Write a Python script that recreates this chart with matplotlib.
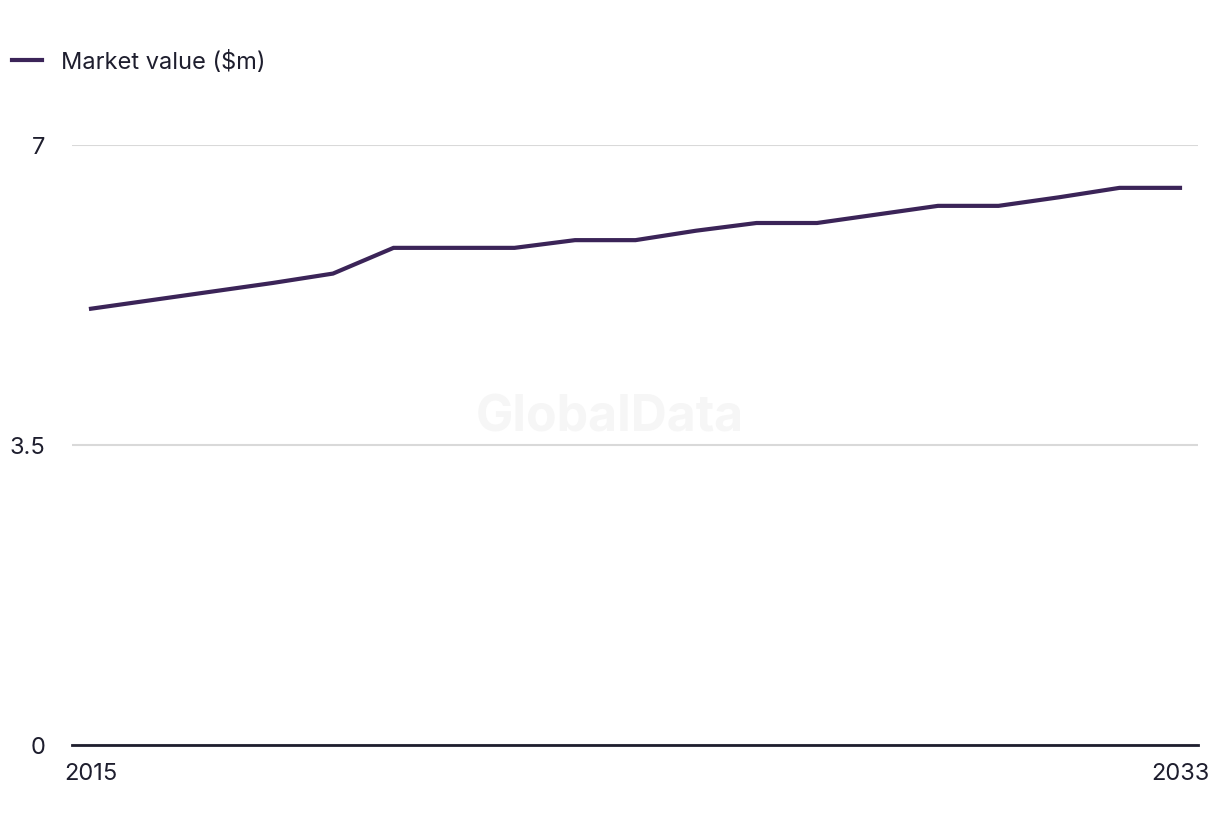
import matplotlib.pyplot as plt

years = list(range(2015, 2034))
market_value = [5.09, 5.19, 5.29, 5.39, 5.50, 5.80, 5.80, 5.80, 5.89, 5.89,
                6.00, 6.09, 6.09, 6.19, 6.29, 6.29, 6.39, 6.50, 6.50]
series_label = 'Market value ($m)'
y_ticks = [0, 3.5, 7]
y_tick_labels = ['0', '3.5', '7']
x_ticks = [2015, 2033]

plt.rcParams['font.family'] = ['Inter', 'DejaVu Sans']
text_color = '#1e1e2e'
line_color = '#3b2458'

fig = plt.figure(figsize=(12.2, 8.36), dpi=100)
ax = fig.add_axes([72 / 1220, 91 / 836, 1126 / 1220, 600 / 836])

ax.plot(years, market_value, color=line_color, linewidth=3, label=series_label,
        solid_joinstyle='miter', zorder=3)

ax.set_xlim(2015 - 19 / 60.5, 2033 + 18 / 60.5)
ax.set_ylim(0, 7)
ax.set_yticks(y_ticks)
ax.set_yticklabels(y_tick_labels)
ax.set_xticks(x_ticks)
ax.set_xticklabels([str(x) for x in x_ticks])

ax.grid(axis='y', color='#d9d9d9', linewidth=1.5)
ax.set_axisbelow(True)
for side in ['top', 'right', 'left']:
    ax.spines[side].set_visible(False)
ax.spines['bottom'].set_color(text_color)
ax.spines['bottom'].set_linewidth(2)
ax.spines['bottom'].set_zorder(4)
ax.tick_params(axis='both', length=0, labelsize=17, colors=text_color)
ax.tick_params(axis='y', pad=19)
ax.tick_params(axis='x', pad=13)

# watermark
fig.text(610 / 1220, 1 - 418 / 836, 'GlobalData', fontsize=36, fontweight='bold',
         color='#f6f6f6', ha='center', va='center', zorder=0)

fig.legend(loc='upper left', bbox_to_anchor=(7 / 1220, 1 - 46 / 836), frameon=False,
           fontsize=17, handlelength=1.3, handletextpad=0.8, borderaxespad=0,
           borderpad=0.2, labelcolor=text_color)

fig.savefig('out.png', dpi=100)
